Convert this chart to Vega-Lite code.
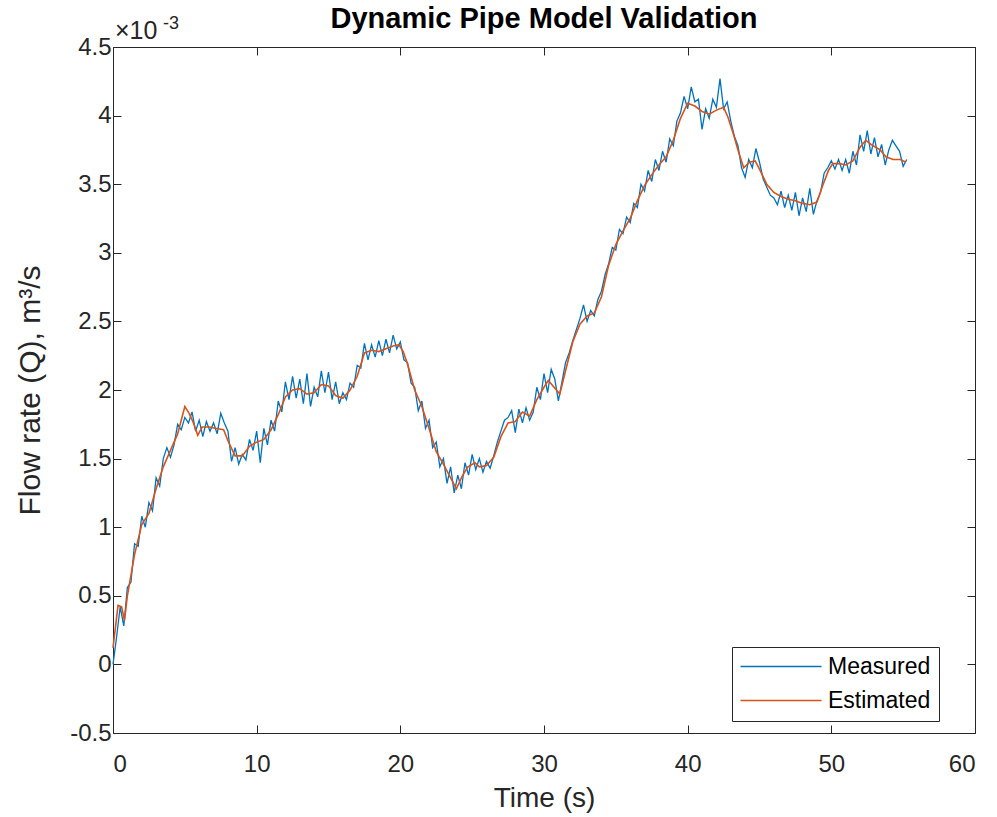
{
  "$schema": "https://vega.github.io/schema/vega-lite/v6.json",
  "width": 862,
  "height": 686,
  "autosize": "none",
  "padding": {"left": 113, "top": 47, "right": 22, "bottom": 84},
  "background": "white",
  "config": {
    "font": "Liberation Sans",
    "view": {"stroke": "#262626", "strokeWidth": 1},
    "axis": {
      "grid": false,
      "domain": false,
      "tickColor": "#262626",
      "tickSize": -8,
      "tickWidth": 1,
      "labelColor": "#262626",
      "labelFontSize": 24,
      "labelFont": "Liberation Sans",
      "titleColor": "#262626",
      "titleFontSize": 28,
      "titleFontWeight": "normal",
      "titleFont": "Liberation Sans"
    }
  },
  "title": {
    "text": "Dynamic Pipe Model Validation",
    "fontSize": 29,
    "fontWeight": "bold",
    "color": "#000000",
    "font": "Liberation Sans",
    "frame": "group",
    "anchor": "middle",
    "baseline": "alphabetic",
    "offset": 0,
    "dy": 42
  },
  "datasets": {
    "measured": [
      {"t": 0.0, "q": 0.0}, {"t": 0.25, "q": 0.2}, {"t": 0.5, "q": 0.42}, {"t": 0.75, "q": 0.28},
      {"t": 1.0, "q": 0.56}, {"t": 1.25, "q": 0.6}, {"t": 1.5, "q": 0.88}, {"t": 1.75, "q": 0.86},
      {"t": 2.0, "q": 1.08}, {"t": 2.25, "q": 1.0}, {"t": 2.5, "q": 1.18}, {"t": 2.75, "q": 1.12},
      {"t": 3.0, "q": 1.36}, {"t": 3.25, "q": 1.3}, {"t": 3.5, "q": 1.5}, {"t": 3.75, "q": 1.58},
      {"t": 4.0, "q": 1.51}, {"t": 4.25, "q": 1.6}, {"t": 4.5, "q": 1.75}, {"t": 4.75, "q": 1.71},
      {"t": 5.0, "q": 1.8}, {"t": 5.25, "q": 1.76}, {"t": 5.5, "q": 1.84}, {"t": 5.75, "q": 1.7},
      {"t": 6.0, "q": 1.78}, {"t": 6.25, "q": 1.66}, {"t": 6.5, "q": 1.77}, {"t": 6.75, "q": 1.7},
      {"t": 7.0, "q": 1.76}, {"t": 7.25, "q": 1.68}, {"t": 7.5, "q": 1.83}, {"t": 7.75, "q": 1.76},
      {"t": 8.0, "q": 1.7}, {"t": 8.25, "q": 1.48}, {"t": 8.5, "q": 1.58}, {"t": 8.75, "q": 1.46},
      {"t": 9.0, "q": 1.53}, {"t": 9.25, "q": 1.49}, {"t": 9.5, "q": 1.64}, {"t": 9.75, "q": 1.56},
      {"t": 10.0, "q": 1.7}, {"t": 10.25, "q": 1.47}, {"t": 10.5, "q": 1.72}, {"t": 10.75, "q": 1.6},
      {"t": 11.0, "q": 1.78}, {"t": 11.25, "q": 1.7}, {"t": 11.5, "q": 1.92}, {"t": 11.75, "q": 1.84},
      {"t": 12.0, "q": 2.06}, {"t": 12.25, "q": 1.93}, {"t": 12.5, "q": 2.1}, {"t": 12.75, "q": 1.94},
      {"t": 13.0, "q": 2.08}, {"t": 13.25, "q": 1.9}, {"t": 13.5, "q": 2.12}, {"t": 13.75, "q": 1.88},
      {"t": 14.0, "q": 2.02}, {"t": 14.25, "q": 1.95}, {"t": 14.5, "q": 2.14}, {"t": 14.75, "q": 1.98},
      {"t": 15.0, "q": 2.13}, {"t": 15.25, "q": 1.93}, {"t": 15.5, "q": 2.06}, {"t": 15.75, "q": 1.9},
      {"t": 16.0, "q": 1.98}, {"t": 16.25, "q": 1.93}, {"t": 16.5, "q": 2.05}, {"t": 16.75, "q": 2.02},
      {"t": 17.0, "q": 2.18}, {"t": 17.25, "q": 2.16}, {"t": 17.5, "q": 2.34}, {"t": 17.75, "q": 2.22},
      {"t": 18.0, "q": 2.33}, {"t": 18.25, "q": 2.24}, {"t": 18.5, "q": 2.36}, {"t": 18.75, "q": 2.25},
      {"t": 19.0, "q": 2.37}, {"t": 19.25, "q": 2.27}, {"t": 19.5, "q": 2.4}, {"t": 19.75, "q": 2.3},
      {"t": 20.0, "q": 2.35}, {"t": 20.25, "q": 2.22}, {"t": 20.5, "q": 2.2}, {"t": 20.75, "q": 2.05},
      {"t": 21.0, "q": 2.02}, {"t": 21.25, "q": 1.85}, {"t": 21.5, "q": 1.92}, {"t": 21.75, "q": 1.72},
      {"t": 22.0, "q": 1.78}, {"t": 22.25, "q": 1.58}, {"t": 22.5, "q": 1.62}, {"t": 22.75, "q": 1.44},
      {"t": 23.0, "q": 1.5}, {"t": 23.25, "q": 1.32}, {"t": 23.5, "q": 1.44}, {"t": 23.75, "q": 1.25},
      {"t": 24.0, "q": 1.38}, {"t": 24.25, "q": 1.28}, {"t": 24.5, "q": 1.47}, {"t": 24.75, "q": 1.38},
      {"t": 25.0, "q": 1.53}, {"t": 25.25, "q": 1.42}, {"t": 25.5, "q": 1.5}, {"t": 25.75, "q": 1.4},
      {"t": 26.0, "q": 1.48}, {"t": 26.25, "q": 1.43}, {"t": 26.5, "q": 1.52}, {"t": 26.75, "q": 1.62},
      {"t": 27.0, "q": 1.7}, {"t": 27.25, "q": 1.78}, {"t": 27.5, "q": 1.8}, {"t": 27.75, "q": 1.85},
      {"t": 28.0, "q": 1.69}, {"t": 28.25, "q": 1.86}, {"t": 28.5, "q": 1.76}, {"t": 28.75, "q": 1.87},
      {"t": 29.0, "q": 1.78}, {"t": 29.25, "q": 1.84}, {"t": 29.5, "q": 2.02}, {"t": 29.75, "q": 1.93},
      {"t": 30.0, "q": 2.12}, {"t": 30.25, "q": 1.98}, {"t": 30.5, "q": 2.15}, {"t": 30.75, "q": 2.08},
      {"t": 31.0, "q": 1.92}, {"t": 31.25, "q": 2.06}, {"t": 31.5, "q": 2.2}, {"t": 31.75, "q": 2.27},
      {"t": 32.0, "q": 2.36}, {"t": 32.25, "q": 2.44}, {"t": 32.5, "q": 2.52}, {"t": 32.75, "q": 2.62},
      {"t": 33.0, "q": 2.5}, {"t": 33.25, "q": 2.58}, {"t": 33.5, "q": 2.54}, {"t": 33.75, "q": 2.66},
      {"t": 34.0, "q": 2.72}, {"t": 34.25, "q": 2.84}, {"t": 34.5, "q": 2.92}, {"t": 34.75, "q": 3.04},
      {"t": 35.0, "q": 3.02}, {"t": 35.25, "q": 3.17}, {"t": 35.5, "q": 3.14}, {"t": 35.75, "q": 3.26},
      {"t": 36.0, "q": 3.22}, {"t": 36.25, "q": 3.36}, {"t": 36.5, "q": 3.33}, {"t": 36.75, "q": 3.5},
      {"t": 37.0, "q": 3.45}, {"t": 37.25, "q": 3.6}, {"t": 37.5, "q": 3.52}, {"t": 37.75, "q": 3.68},
      {"t": 38.0, "q": 3.6}, {"t": 38.25, "q": 3.74}, {"t": 38.5, "q": 3.66}, {"t": 38.75, "q": 3.83},
      {"t": 39.0, "q": 3.78}, {"t": 39.25, "q": 3.96}, {"t": 39.5, "q": 4.02}, {"t": 39.75, "q": 4.14},
      {"t": 40.0, "q": 4.05}, {"t": 40.25, "q": 4.21}, {"t": 40.5, "q": 4.1}, {"t": 40.75, "q": 4.12},
      {"t": 41.0, "q": 3.9}, {"t": 41.25, "q": 4.05}, {"t": 41.5, "q": 3.98}, {"t": 41.75, "q": 4.12},
      {"t": 42.0, "q": 4.06}, {"t": 42.25, "q": 4.27}, {"t": 42.5, "q": 4.05}, {"t": 42.75, "q": 4.1},
      {"t": 43.0, "q": 3.96}, {"t": 43.25, "q": 3.85}, {"t": 43.5, "q": 3.78}, {"t": 43.75, "q": 3.62},
      {"t": 44.0, "q": 3.55}, {"t": 44.25, "q": 3.68}, {"t": 44.5, "q": 3.62}, {"t": 44.75, "q": 3.76},
      {"t": 45.0, "q": 3.66}, {"t": 45.25, "q": 3.54}, {"t": 45.5, "q": 3.48}, {"t": 45.75, "q": 3.42},
      {"t": 46.0, "q": 3.4}, {"t": 46.25, "q": 3.35}, {"t": 46.5, "q": 3.45}, {"t": 46.75, "q": 3.33},
      {"t": 47.0, "q": 3.42}, {"t": 47.25, "q": 3.31}, {"t": 47.5, "q": 3.44}, {"t": 47.75, "q": 3.27},
      {"t": 48.0, "q": 3.4}, {"t": 48.25, "q": 3.3}, {"t": 48.5, "q": 3.47}, {"t": 48.75, "q": 3.28},
      {"t": 49.0, "q": 3.38}, {"t": 49.25, "q": 3.44}, {"t": 49.5, "q": 3.58}, {"t": 49.75, "q": 3.62},
      {"t": 50.0, "q": 3.67}, {"t": 50.25, "q": 3.61}, {"t": 50.5, "q": 3.68}, {"t": 50.75, "q": 3.6},
      {"t": 51.0, "q": 3.68}, {"t": 51.25, "q": 3.58}, {"t": 51.5, "q": 3.74}, {"t": 51.75, "q": 3.64},
      {"t": 52.0, "q": 3.86}, {"t": 52.25, "q": 3.74}, {"t": 52.5, "q": 3.89}, {"t": 52.75, "q": 3.72},
      {"t": 53.0, "q": 3.84}, {"t": 53.25, "q": 3.7}, {"t": 53.5, "q": 3.79}, {"t": 53.75, "q": 3.64},
      {"t": 54.0, "q": 3.75}, {"t": 54.25, "q": 3.82}, {"t": 54.5, "q": 3.78}, {"t": 54.75, "q": 3.74},
      {"t": 55.0, "q": 3.63}, {"t": 55.25, "q": 3.68}
    ],
    "estimated": [
      {"t": 0.0, "q": 0.12}, {"t": 0.35, "q": 0.43}, {"t": 0.6, "q": 0.42}, {"t": 0.8, "q": 0.32},
      {"t": 1.0, "q": 0.5}, {"t": 1.5, "q": 0.8}, {"t": 2.0, "q": 1.02}, {"t": 2.5, "q": 1.1},
      {"t": 3.0, "q": 1.28}, {"t": 3.5, "q": 1.44}, {"t": 4.0, "q": 1.56}, {"t": 4.5, "q": 1.68},
      {"t": 5.0, "q": 1.88}, {"t": 5.3, "q": 1.83}, {"t": 5.6, "q": 1.76}, {"t": 5.9, "q": 1.67},
      {"t": 6.2, "q": 1.73}, {"t": 6.7, "q": 1.73}, {"t": 7.2, "q": 1.72}, {"t": 7.7, "q": 1.71},
      {"t": 8.0, "q": 1.63}, {"t": 8.5, "q": 1.52}, {"t": 9.0, "q": 1.52}, {"t": 9.5, "q": 1.59},
      {"t": 10.0, "q": 1.62}, {"t": 10.5, "q": 1.64}, {"t": 11.0, "q": 1.71}, {"t": 11.5, "q": 1.82},
      {"t": 12.0, "q": 1.95}, {"t": 12.5, "q": 2.0}, {"t": 13.0, "q": 2.01}, {"t": 13.5, "q": 1.97},
      {"t": 14.0, "q": 1.98}, {"t": 14.5, "q": 2.04}, {"t": 15.0, "q": 2.03}, {"t": 15.5, "q": 1.96},
      {"t": 16.0, "q": 1.94}, {"t": 16.5, "q": 2.0}, {"t": 17.0, "q": 2.1}, {"t": 17.5, "q": 2.27},
      {"t": 18.0, "q": 2.29}, {"t": 18.5, "q": 2.28}, {"t": 19.0, "q": 2.3}, {"t": 19.5, "q": 2.32},
      {"t": 19.9, "q": 2.33}, {"t": 20.2, "q": 2.28}, {"t": 20.5, "q": 2.19}, {"t": 21.0, "q": 2.0},
      {"t": 21.5, "q": 1.88}, {"t": 22.0, "q": 1.72}, {"t": 22.5, "q": 1.55}, {"t": 23.0, "q": 1.46},
      {"t": 23.5, "q": 1.36}, {"t": 23.9, "q": 1.28}, {"t": 24.3, "q": 1.37}, {"t": 24.7, "q": 1.44},
      {"t": 25.2, "q": 1.47}, {"t": 25.5, "q": 1.44}, {"t": 26.0, "q": 1.45}, {"t": 26.5, "q": 1.51},
      {"t": 27.0, "q": 1.66}, {"t": 27.5, "q": 1.76}, {"t": 28.0, "q": 1.77}, {"t": 28.5, "q": 1.84},
      {"t": 29.0, "q": 1.81}, {"t": 29.5, "q": 1.93}, {"t": 30.0, "q": 2.02}, {"t": 30.3, "q": 2.07},
      {"t": 30.7, "q": 2.02}, {"t": 31.1, "q": 1.97}, {"t": 31.5, "q": 2.14}, {"t": 32.0, "q": 2.35},
      {"t": 32.5, "q": 2.48}, {"t": 33.0, "q": 2.54}, {"t": 33.5, "q": 2.56}, {"t": 34.0, "q": 2.68},
      {"t": 34.5, "q": 2.91}, {"t": 35.0, "q": 3.06}, {"t": 35.5, "q": 3.16}, {"t": 36.0, "q": 3.25},
      {"t": 36.5, "q": 3.38}, {"t": 37.0, "q": 3.49}, {"t": 37.5, "q": 3.57}, {"t": 38.0, "q": 3.64},
      {"t": 38.5, "q": 3.7}, {"t": 39.0, "q": 3.82}, {"t": 39.5, "q": 3.98}, {"t": 40.0, "q": 4.09},
      {"t": 40.5, "q": 4.07}, {"t": 41.0, "q": 4.03}, {"t": 41.5, "q": 4.01}, {"t": 42.0, "q": 4.04},
      {"t": 42.5, "q": 4.06}, {"t": 42.8, "q": 3.99}, {"t": 43.2, "q": 3.86}, {"t": 43.5, "q": 3.75},
      {"t": 43.9, "q": 3.62}, {"t": 44.3, "q": 3.66}, {"t": 44.7, "q": 3.67}, {"t": 45.0, "q": 3.61},
      {"t": 45.5, "q": 3.5}, {"t": 46.0, "q": 3.44}, {"t": 46.5, "q": 3.41}, {"t": 47.0, "q": 3.39},
      {"t": 47.5, "q": 3.38}, {"t": 48.0, "q": 3.36}, {"t": 48.5, "q": 3.35}, {"t": 49.0, "q": 3.37},
      {"t": 49.4, "q": 3.49}, {"t": 49.8, "q": 3.6}, {"t": 50.1, "q": 3.65}, {"t": 50.6, "q": 3.65},
      {"t": 51.0, "q": 3.64}, {"t": 51.5, "q": 3.67}, {"t": 52.0, "q": 3.77}, {"t": 52.4, "q": 3.82},
      {"t": 52.9, "q": 3.78}, {"t": 53.4, "q": 3.75}, {"t": 53.8, "q": 3.7}, {"t": 54.3, "q": 3.68},
      {"t": 54.8, "q": 3.68}, {"t": 55.2, "q": 3.66}
    ]
  },
  "layer": [
    {
      "data": {"name": "measured"},
      "mark": {"type": "line", "strokeWidth": 1.3},
      "encoding": {
        "x": {
          "field": "t", "type": "quantitative",
          "scale": {"domain": [0, 60], "nice": false, "zero": false},
          "axis": {"orient": "bottom", "values": [0, 10, 20, 30, 40, 50, 60], "labelPadding": 27, "title": "Time (s)", "titlePadding": 8}
        },
        "y": {
          "field": "q", "type": "quantitative",
          "scale": {"domain": [-0.5, 4.5], "nice": false, "zero": false},
          "axis": {"orient": "left", "values": [-0.5, 0, 0.5, 1, 1.5, 2, 2.5, 3, 3.5, 4, 4.5], "format": ".1~f", "labelExpr": "replace(datum.label, '\u2212', '-')", "labelPadding": 10, "title": "Flow rate (Q), m\u00b3/s", "titleFontSize": 30, "titlePadding": 24}
        },
        "color": {
          "datum": "Measured",
          "scale": {"domain": ["Measured", "Estimated"], "range": ["#0072BD", "#D95319"]},
          "legend": {
            "title": null,
            "orient": "none",
            "legendX": 619,
            "legendY": 600,
            "fillColor": "white",
            "strokeColor": "#262626",
            "padding": 8,
            "rowPadding": 10,
            "symbolType": "M-1.1,0H7",
            "symbolSize": 400,
            "symbolStrokeWidth": 1.5,
            "labelOffset": 65,
            "labelFontSize": 23,
            "labelColor": "#000000",
            "labelFont": "Liberation Sans"
          }
        }
      }
    },
    {
      "data": {"name": "estimated"},
      "mark": {"type": "line", "strokeWidth": 1.6},
      "encoding": {
        "x": {
          "field": "t", "type": "quantitative",
          "axis": {"orient": "top", "values": [0, 10, 20, 30, 40, 50, 60], "labels": false, "title": null}
        },
        "y": {
          "field": "q", "type": "quantitative",
          "axis": {"orient": "right", "values": [-0.5, 0, 0.5, 1, 1.5, 2, 2.5, 3, 3.5, 4, 4.5], "labels": false, "title": null}
        },
        "color": {"datum": "Estimated"}
      }
    },
    {
      "data": {"values": [{}]},
      "mark": {"type": "text", "align": "left", "baseline": "alphabetic", "dx": 2, "dy": -8, "fontSize": 25, "color": "#262626", "font": "Liberation Sans"},
      "encoding": {
        "x": {"datum": 0, "type": "quantitative", "axis": null},
        "y": {"datum": 4.5, "type": "quantitative", "axis": null},
        "text": {"value": "\u00d710"}
      }
    },
    {
      "data": {"values": [{}]},
      "mark": {"type": "text", "align": "left", "baseline": "alphabetic", "dx": 50, "dy": -18, "fontSize": 18, "color": "#262626", "font": "Liberation Sans"},
      "encoding": {
        "x": {"datum": 0, "type": "quantitative", "axis": null},
        "y": {"datum": 4.5, "type": "quantitative", "axis": null},
        "text": {"value": "-3"}
      }
    }
  ],
  "resolve": {"axis": {"x": "independent", "y": "independent"}}
}
